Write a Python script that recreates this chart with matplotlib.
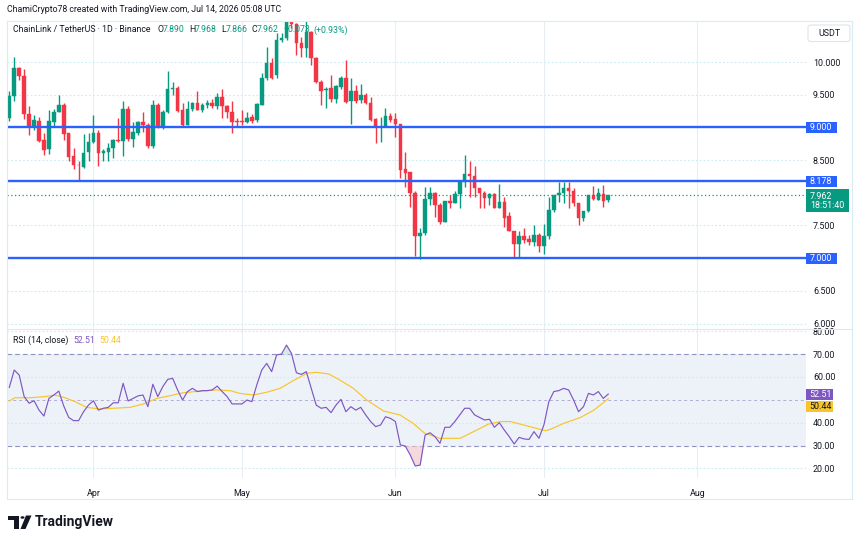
import matplotlib
matplotlib.use('Agg')
import matplotlib.pyplot as plt
import matplotlib.transforms as mtransforms
from matplotlib.patches import Rectangle, Polygon, Circle, FancyBboxPatch
from matplotlib.lines import Line2D
import numpy as np
import pandas as pd

plt.rcParams['font.family'] = ['Roboto', 'DejaVu Sans']

# ---------------- data ----------------
start_date = '2026-03-15'
opens = [9.15, 9.48, 9.91, 9.79, 9.21, 9.02, 9.10, 8.81, 8.67, 9.09,
         9.24, 9.35, 8.91, 8.57, 8.43, 8.40, 8.62, 8.77, 8.92, 8.61,
         8.63, 8.68, 8.81, 8.79, 9.28, 8.83, 8.92, 9.09, 9.04, 8.71,
         9.35, 9.00, 9.24, 9.58, 9.61, 9.26, 9.04, 9.28, 9.38, 9.27,
         9.34, 9.37, 9.33, 9.46, 9.32, 9.23, 9.10, 9.09, 9.08, 9.16,
         9.12, 9.35, 9.75, 9.98, 9.80, 10.34, 10.36, 10.62, 10.58, 10.29,
         10.21, 10.46, 10.06, 9.70, 9.57, 9.60, 9.44, 9.62, 9.75, 9.40,
         9.56, 9.42, 9.50, 9.37, 9.13, 9.00, 9.00, 9.18, 9.13, 9.05,
         8.36, 8.32, 7.99, 7.34, 7.38, 7.90, 7.99, 7.82, 7.55, 7.87,
         7.85, 7.98, 8.17, 8.29, 8.26, 8.08, 8.00, 7.92, 7.98, 7.76,
         7.86, 7.64, 7.42, 7.21, 7.34, 7.29, 7.25, 7.36, 7.19, 7.34,
         7.74, 7.97, 7.99, 8.07, 8.02, 7.84, 7.62, 7.72, 7.96, 7.89,
         7.98, 7.890]
highs = [9.56, 10.07, 9.93, 9.90, 9.33, 9.19, 9.16, 8.91, 9.27, 9.28,
         9.49, 9.38, 8.91, 8.69, 8.48, 8.90, 8.92, 9.19, 8.96, 8.67,
         8.76, 8.83, 9.14, 9.40, 9.33, 9.09, 9.10, 9.24, 9.06, 9.42,
         9.38, 9.27, 9.86, 9.70, 9.63, 9.37, 9.40, 9.39, 9.55, 9.38,
         9.42, 9.44, 9.52, 9.59, 9.34, 9.40, 9.14, 9.27, 9.24, 9.21,
         9.38, 9.83, 10.23, 10.06, 10.44, 10.45, 10.70, 10.70, 10.60, 10.38,
         10.66, 10.48, 10.08, 9.72, 9.62, 9.80, 9.65, 9.78, 10.03, 9.76,
         9.65, 9.67, 9.53, 9.47, 9.14, 9.16, 9.30, 9.22, 9.22, 9.05,
         8.62, 8.32, 8.03, 7.46, 8.09, 8.09, 8.01, 7.84, 7.87, 7.97,
         8.02, 8.17, 8.58, 8.48, 8.41, 8.08, 8.03, 7.99, 7.99, 8.14,
         7.94, 7.70, 7.42, 7.41, 7.46, 7.35, 7.50, 7.38, 7.52, 7.94,
         7.97, 8.17, 8.17, 8.17, 8.07, 7.84, 7.72, 7.97, 8.11, 8.07,
         8.12, 7.968]
lows = [9.10, 9.40, 9.72, 9.13, 8.88, 8.96, 8.78, 8.58, 8.59, 9.01,
        9.23, 8.81, 8.48, 8.36, 8.20, 8.38, 8.49, 8.76, 8.41, 8.49,
        8.48, 8.53, 8.78, 8.57, 8.79, 8.70, 8.88, 8.93, 8.68, 8.69,
        8.99, 8.98, 9.22, 9.50, 9.23, 9.00, 9.04, 9.25, 9.26, 9.24,
        9.30, 9.29, 9.28, 9.14, 9.15, 8.91, 9.01, 9.04, 9.06, 9.06,
        9.09, 9.34, 9.73, 9.74, 9.76, 10.31, 10.33, 10.52, 10.10, 10.08,
        10.08, 9.96, 9.68, 9.34, 9.30, 9.39, 9.37, 9.58, 9.37, 9.05,
        9.37, 9.37, 9.36, 9.10, 8.76, 8.78, 9.00, 9.09, 8.86, 8.22,
        8.09, 7.79, 7.04, 6.99, 7.35, 7.81, 7.63, 7.53, 7.55, 7.76,
        7.84, 7.77, 8.09, 7.94, 7.93, 7.76, 7.76, 7.82, 7.76, 7.76,
        7.47, 7.42, 7.00, 7.01, 7.23, 7.20, 7.18, 7.09, 7.07, 7.30,
        7.71, 7.86, 7.84, 7.76, 7.80, 7.51, 7.57, 7.70, 7.89, 7.89,
        7.79, 7.866]
closes = [9.48, 9.91, 9.78, 9.20, 9.02, 9.11, 8.79, 8.66, 9.10, 9.24,
          9.35, 8.90, 8.55, 8.43, 8.42, 8.61, 8.78, 8.92, 8.61, 8.64,
          8.69, 8.80, 8.79, 9.28, 8.83, 8.93, 9.08, 9.04, 8.71, 9.35,
          9.00, 9.24, 9.58, 9.61, 9.25, 9.04, 9.28, 9.38, 9.27, 9.34,
          9.37, 9.33, 9.46, 9.32, 9.23, 9.09, 9.08, 9.08, 9.15, 9.10,
          9.36, 9.75, 9.98, 9.75, 10.34, 10.37, 10.62, 10.58, 10.29, 10.21,
          10.46, 10.06, 9.70, 9.56, 9.59, 9.43, 9.64, 9.75, 9.39, 9.56,
          9.40, 9.50, 9.37, 9.11, 9.00, 9.01, 9.18, 9.11, 9.05, 8.35,
          8.31, 7.99, 7.34, 7.38, 7.91, 7.99, 7.82, 7.55, 7.87, 7.85,
          7.98, 8.17, 8.28, 8.26, 8.07, 7.99, 7.92, 7.98, 7.76, 7.86,
          7.62, 7.42, 7.21, 7.34, 7.28, 7.25, 7.36, 7.19, 7.34, 7.74,
          7.97, 7.99, 8.07, 8.02, 7.84, 7.62, 7.72, 7.96, 7.90, 7.99,
          7.87, 7.962]

rsi = [55.4, 63.0, 60.8, 51.4, 48.5, 49.6, 45.5, 42.9, 50.6, 52.1,
       53.8, 47.3, 42.3, 40.9, 40.9, 44.8, 47.7, 49.6, 45.5, 46.3,
       46.7, 48.7, 48.7, 57.2, 49.5, 50.6, 51.7, 52.1, 47.0, 56.8,
       51.4, 55.7, 58.9, 59.4, 54.3, 49.9, 53.6, 55.0, 53.6, 54.0,
       54.0, 54.3, 56.0, 53.6, 51.4, 48.2, 48.2, 48.2, 49.9, 49.2,
       56.5, 63.0, 65.9, 62.3, 69.6, 70.0, 73.9, 70.3, 61.8, 61.1,
       62.3, 55.0, 47.7, 46.3, 46.7, 44.4, 47.7, 50.2, 44.8, 47.0,
       45.5, 46.7, 43.4, 40.5, 38.3, 39.0, 42.6, 41.9, 40.5, 30.3,
       29.8, 25.9, 21.1, 21.5, 34.6, 35.6, 33.9, 31.0, 38.0, 38.0,
       40.5, 43.4, 46.3, 46.3, 43.4, 42.3, 41.2, 41.5, 38.0, 40.0,
       36.8, 33.9, 30.7, 33.6, 32.9, 32.7, 36.1, 33.2, 39.0, 49.2,
       53.6, 54.0, 55.0, 54.3, 49.9, 44.8, 47.0, 52.8, 52.1, 53.6,
       50.6, 52.51]

# RSI moving average (day offset from first candle, value)
rsi_ma_day = [0, 1.15, 4.2, 7.2, 9.2, 11.25, 13.3, 15.6, 18.3, 21, 24.4, 27.1,
              29.8, 32.5, 35.2, 38.5, 41.9, 44.6, 46.6, 49.3, 52, 54.7, 57.4,
              60.1, 62.1, 64.5, 66.8, 69.5, 72.2, 75.6, 78.9, 81.6, 83.9, 87,
              91.1, 93.8, 96.8, 99.2, 101.2, 103.9, 108.3, 109.3, 112, 115.4,
              118.1, 121]
rsi_ma = [49.5, 50.9, 50.9, 51.4, 52.1, 50.9, 49.2, 46.7, 46.0, 46.3, 46.7, 48.2,
          50.6, 51.8, 53.1, 53.8, 54.3, 54.0, 52.8, 52.1, 53.3, 55.0, 58.4,
          61.6, 62.0, 61.3, 58.6, 55.0, 49.9, 45.1, 43.4, 39.7, 35.4, 33.2,
          33.2, 36.1, 39.4, 40.5, 40.5, 39.0, 36.5, 37.1, 39.7, 42.3,
          45.5, 50.44]

price_ticks = [6.0, 6.5, 7.5, 8.5, 9.5, 10.0]
level_lines = [9.000, 8.178, 7.000]
rsi_ticks = [20, 30, 40, 60, 70, 80]
month_labels = ['Apr', 'May', 'Jun', 'Jul', 'Aug']
month_dates = ['2026-04-01', '2026-05-01', '2026-06-01', '2026-07-01', '2026-08-01']
last_price = 7.962
last_time = '18:51:40'
rsi_last = 52.51
rsi_ma_last = 50.44

# ---------------- styling ----------------
GREEN = '#089981'
RED = '#F23645'
BLUE = '#2962FF'
TXT = '#131722'
PURPLE = '#7E57C2'
YELLOW = '#F7C52B'
GRID_H = '#c9ecf2'
GRID_V = '#e9eef2'
FRAME = '#d6eef3'

W, H = 860, 543
def fx(x):
    return x / W
def fy(y):
    return 1 - y / H

fig = plt.figure(figsize=(W / 100, H / 100), dpi=100)
fig.patch.set_facecolor('white')

L, R = 7, 806
TOP, SEP, RBOT = 20.5, 329, 478
ax = fig.add_axes([fx(L), fy(SEP), (R - L) / W, (SEP - TOP) / H])
ax2 = fig.add_axes([fx(L), fy(RBOT), (R - L) / W, (RBOT - SEP) / H], sharex=ax)

n = len(closes)
x = np.arange(n)
t0 = pd.Timestamp(start_date)
month_x = [(pd.Timestamp(d) - t0).days for d in month_dates]

xmin, xmax = -0.465, 160.95
ax.set_xlim(xmin, xmax)
ax.set_ylim(5.9174, 10.6346)
ax2.set_ylim(15.85, 80.92)

for a in (ax, ax2):
    a.set_facecolor('white')
    for s in a.spines.values():
        s.set_visible(False)
    a.tick_params(length=0)
    for mx in month_x:
        a.axvline(mx, color=GRID_V, lw=0.8, zorder=0)

# price grid
for p in price_ticks:
    ax.axhline(p, color=GRID_H, lw=0.8, ls=(0, (1.5, 2)), zorder=0.5)

# candles
o = np.array(opens); h = np.array(highs); lo = np.array(lows); c = np.array(closes)
up = c >= o
cols = np.where(up, GREEN, RED)
ax.vlines(x, lo, h, colors=cols, lw=1.0, zorder=2)
body_h = np.maximum(np.abs(c - o), 0.012)
ax.bar(x, body_h, bottom=np.minimum(o, c), width=0.72, color=cols, edgecolor=cols,
       linewidth=0.3, zorder=3)

# horizontal levels
for lv in level_lines:
    ax.axhline(lv, color=BLUE, lw=1.7, zorder=4)
ax.axhline(last_price, color=GREEN, lw=0.9, ls=(0, (1, 2)), zorder=4)

# price axis labels
ax.yaxis.tick_right()
ax.set_yticks(price_ticks)
ax.set_yticklabels([f'{p:.3f}' for p in price_ticks], fontsize=6.4, color=TXT)
ax.tick_params(axis='y', pad=5, length=0)
ax.tick_params(axis='x', labelbottom=False)

trans = mtransforms.blended_transform_factory(ax.transAxes, ax.transData)
ppu = (SEP - TOP) / (10.6346 - 5.9174)  # pixels per price unit
def price_box(val, text, color, width_px, height_px, y_center=None, tcolor='white'):
    yc = val if y_center is None else y_center
    hh = height_px / ppu
    ww = width_px / (R - L)
    ax.add_patch(Rectangle((1.0, yc - hh / 2), ww, hh, transform=trans,
                           facecolor=color, edgecolor='none', clip_on=False, zorder=6))
    ax.text(1.0 + 4 / (R - L), yc, text, transform=trans, fontsize=6.4,
            color=tcolor, va='center', ha='left', clip_on=False, zorder=7,
            linespacing=1.05)

for lv in level_lines:
    price_box(lv, f'{lv:.3f}', BLUE, 31, 11)
price_box(last_price, f'{last_price:.3f}\n{last_time}', GREEN, 43, 23,
          y_center=last_price - 10.5 / ppu + 5 / ppu)

# RSI pane
ax2.axhspan(30, 70, color='#edf2f8', zorder=0.2, lw=0)
for r in rsi_ticks:
    ax2.axhline(r, color=GRID_H, lw=0.8, ls=(0, (1.5, 2)), zorder=0.5)
ax2.axhline(70, color='#958dc0', lw=0.8, ls=(0, (4, 3)), zorder=1)
ax2.axhline(30, color='#958dc0', lw=0.8, ls=(0, (4, 3)), zorder=1)
ax2.axhline(50, color='#b3acd6', lw=0.7, ls=(0, (3, 3)), zorder=1)
rs = np.array(rsi)
ax2.fill_between(x, rs, 30, where=rs < 30, interpolate=True, color='#f3c9cf',
                 alpha=0.7, lw=0, zorder=1.5)
ax2.fill_between(x, rs, 70, where=rs > 70, interpolate=True, color='#bfe6dc',
                 alpha=0.7, lw=0, zorder=1.5)
ax2.plot(rsi_ma_day, rsi_ma, color=YELLOW, lw=0.85, zorder=2)
ax2.plot(x, rs, color=PURPLE, lw=0.85, zorder=3)

ax2.yaxis.tick_right()
ax2.set_yticks(rsi_ticks)
ax2.set_yticklabels([f'{r:.2f}' for r in rsi_ticks], fontsize=6.4, color=TXT)
ax2.tick_params(axis='y', pad=5, length=0)
ax2.set_xticks(month_x)
ax2.set_xticklabels(month_labels, fontsize=6.4, color=TXT)
ax2.tick_params(axis='x', pad=8, length=0)

trans2 = mtransforms.blended_transform_factory(ax2.transAxes, ax2.transData)
rpu = (RBOT - SEP) / (80.92 - 15.85)
def rsi_box(yc, text, color, tcolor):
    hh = 11 / rpu
    ww = 27 / (R - L)
    ax2.add_patch(Rectangle((1.0, yc - hh / 2), ww, hh, transform=trans2,
                            facecolor=color, edgecolor='none', clip_on=False, zorder=6))
    ax2.text(1.0 + 3 / (R - L), yc, text, transform=trans2, fontsize=6.4,
             color=tcolor, va='center', ha='left', clip_on=False, zorder=7)
rsi_box(rsi_last, f'{rsi_last:.2f}', PURPLE, 'white')
rsi_box(rsi_last - 12.7 / rpu, f'{rsi_ma_last:.2f}', YELLOW, TXT)

# frame lines
def fline(x0, y0, x1, y1, color=FRAME, lw=0.8):
    fig.add_artist(Line2D([fx(x0), fx(x1)], [fy(y0), fy(y1)], color=color, lw=lw,
                          transform=fig.transFigure))
fline(7, TOP, 852, TOP)
fline(852, TOP, 852, 499)
fline(7, 499, 852, 499)
fline(7, TOP, 7, 499)
fline(7, SEP, 852, SEP, color='#e3e6ec')

# USDT box
fig.add_artist(FancyBboxPatch((fx(808), fy(41.5)), (850 - 808) / W, (41.5 - 25) / H,
                              boxstyle='round,pad=0,rounding_size=0.004',
                              transform=fig.transFigure, facecolor='white',
                              edgecolor='#e0e3eb', lw=0.8))
fig.text(fx(829), fy(33.3), 'USDT', fontsize=6.4, color=TXT, ha='center', va='center')

# header texts
fig.text(fx(7), fy(10), 'ChamiCrypto78 created with TradingView.com, Jul 14, 2026 05:08 UTC',
         fontsize=6.3, color=TXT, ha='left', va='center')
fig.text(fx(13), fy(30), 'ChainLink / TetherUS · 1D · Binance', fontsize=6.3, color=TXT,
         ha='left', va='center', zorder=10)
legend_parts = [('O', 157, TXT), ('7.890', 163, GREEN), ('H', 189, TXT), ('7.968', 195, GREEN),
                ('L', 221, TXT), ('7.866', 226, GREEN), ('C', 251, TXT), ('7.962', 257, GREEN),
                ('+0.073', 284, GREEN), ('(+0.93%)', 313, GREEN)]
for txt, xp, col in legend_parts:
    fig.text(fx(xp), fy(30), txt, fontsize=6.3, color=col, ha='left', va='center', zorder=10)

fig.text(fx(13), fy(340.5), 'RSI (14, close)', fontsize=6.3, color=TXT, ha='left', va='center')
fig.text(fx(73), fy(340.5), f'{rsi_last:.2f}', fontsize=6.3, color=PURPLE, ha='left', va='center')
fig.text(fx(99), fy(340.5), f'{rsi_ma_last:.2f}', fontsize=6.3, color=YELLOW, ha='left', va='center')

# TradingView logo
def fpoly(pts, **kw):
    fig.add_artist(Polygon([(fx(a), fy(b)) for a, b in pts], closed=True,
                           transform=fig.transFigure, **kw))
fpoly([(8, 515.5), (19, 515.5), (19, 529), (14, 529), (14, 519.5), (8, 519.5)], facecolor=TXT, edgecolor='none')
fig.add_artist(Circle((fx(22.5), fy(517.5)), 2.0 / W, transform=fig.transFigure,
                      facecolor=TXT, edgecolor='none'))
fpoly([(26, 515.5), (31.5, 515.5), (25.5, 529), (20.5, 529)], facecolor=TXT, edgecolor='none')
fig.text(fx(35), fy(522), 'TradingView', fontsize=10, fontweight='bold', color=TXT,
         ha='left', va='center')

fig.savefig('out.png', dpi=100, facecolor='white')
